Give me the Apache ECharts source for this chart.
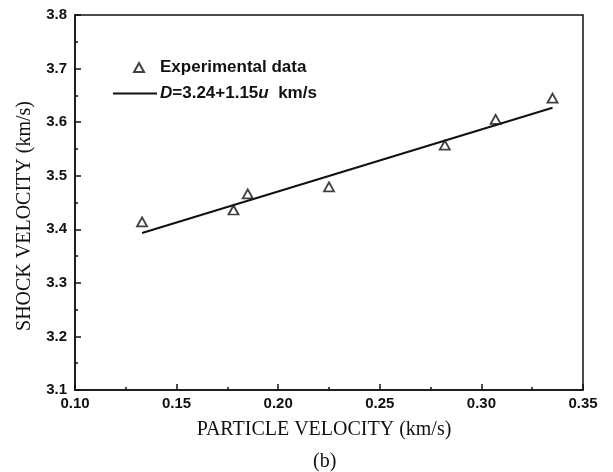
<!DOCTYPE html>
<html lang="en">
<head>
    <meta charset="utf-8">
    <title>Shock velocity vs particle velocity</title>
    <script src="https://cdn.jsdelivr.net/npm/echarts@6/dist/echarts.min.js"></script>
    <style>
        html, body { margin: 0; padding: 0; background: #fff; }
        #chart { width: 613px; height: 472px; }
    </style>
</head>
<body>
    <div id="chart"></div>
    <script>
        // experimental points (u, D) in km/s
        const particleVel = [0.133, 0.178, 0.185, 0.225, 0.282, 0.307, 0.335];
        const shockVel = [3.414, 3.436, 3.466, 3.479, 3.557, 3.605, 3.645];
        // fitted line end points: D = 3.24 + 1.15u
        const fitU = [0.133, 0.335];
        const fitD = [3.393, 3.627];

        const xTicks = { min: 0.10, max: 0.35, step: 0.05 };
        const yTicks = { min: 3.1, max: 3.8, step: 0.1 };

        const chart = echarts.init(document.getElementById('chart'));

        const legendText = {
            color: '#111', fontFamily: 'Liberation Sans, Arial', fontWeight: 'bold', fontSize: 17
        };

        const axisCommon = {
            axisLine: { show: true, lineStyle: { color: '#111', width: 1.5 } },
            axisTick: { show: true, inside: true, length: 6, lineStyle: { color: '#111', width: 1.5 } },
            minorTick: { show: true, splitNumber: 2, length: 3, lineStyle: { color: '#111', width: 1.5 } },
            splitLine: { show: false },
            axisLabel: {
                color: '#111', fontFamily: 'Liberation Sans, Arial', fontWeight: 'bold', fontSize: 15
            },
            nameLocation: 'middle',
            nameTextStyle: { color: '#111', fontFamily: 'Liberation Serif, Times New Roman', fontSize: 20 }
        };

        const option = {
            animation: false,
            grid: {
                left: 75, right: 30, top: 15, bottom: 82,
                show: true, borderColor: '#111', borderWidth: 1.5
            },
            legend: [
                {
                    // scatter entry
                    left: 128,
                    top: 54,
                    itemWidth: 10,
                    itemHeight: 9,
                    textStyle: Object.assign({ padding: [0, 0, 0, 11] }, legendText),
                    data: [{ name: 'Experimental data', icon: 'triangle' }]
                },
                {
                    // fitted line entry
                    left: 108,
                    top: 80,
                    itemWidth: 44,
                    itemHeight: 2,
                    textStyle: Object.assign({
                        padding: [0, 0, 0, -2],
                        rich: {
                            it: Object.assign({ fontStyle: 'italic' }, legendText),
                            n: legendText
                        }
                    }, legendText),
                    formatter: () => '{it|D}{n|=3.24+1.15}{it|u}{n|  km/s}',
                    data: [{ name: 'fit', icon: 'rect', itemStyle: { color: '#111', borderWidth: 0 } }]
                }
            ],
            xAxis: Object.assign({}, axisCommon, {
                type: 'value',
                min: xTicks.min, max: xTicks.max, interval: xTicks.step,
                name: 'PARTICLE VELOCITY (km/s)',
                nameGap: 30,
                nameTextStyle: Object.assign({}, axisCommon.nameTextStyle, { padding: [0, 10, 0, 0] }),
                axisLabel: Object.assign({}, axisCommon.axisLabel, {
                    margin: 6,
                    formatter: v => v.toFixed(2)
                })
            }),
            yAxis: Object.assign({}, axisCommon, {
                type: 'value',
                min: yTicks.min, max: yTicks.max, interval: yTicks.step,
                name: 'SHOCK VELOCITY (km/s)',
                nameGap: 40,
                nameTextStyle: Object.assign({}, axisCommon.nameTextStyle, { padding: [0, 27, 0, 0] }),
                axisLabel: Object.assign({}, axisCommon.axisLabel, {
                    margin: 8,
                    formatter: v => v.toFixed(1)
                })
            }),
            graphic: [{
                type: 'text',
                left: 313, top: 452,
                style: { text: '(b)', fill: '#111', font: '20px "Liberation Serif", "Times New Roman"' }
            }],
            series: [
                {
                    name: 'Experimental data',
                    type: 'scatter',
                    symbol: 'triangle',
                    symbolSize: [10, 9],
                    itemStyle: { color: '#fff', borderColor: '#111', borderWidth: 1.8 },
                    data: particleVel.map((u, i) => [u, shockVel[i]]),
                    z: 3
                },
                {
                    name: 'fit',
                    type: 'line',
                    symbol: 'none',
                    lineStyle: { color: '#111', width: 2 },
                    itemStyle: { color: '#111' },
                    data: fitU.map((u, i) => [u, fitD[i]]),
                    z: 2
                }
            ]
        };

        chart.setOption(option);
    </script>
</body>
</html>
